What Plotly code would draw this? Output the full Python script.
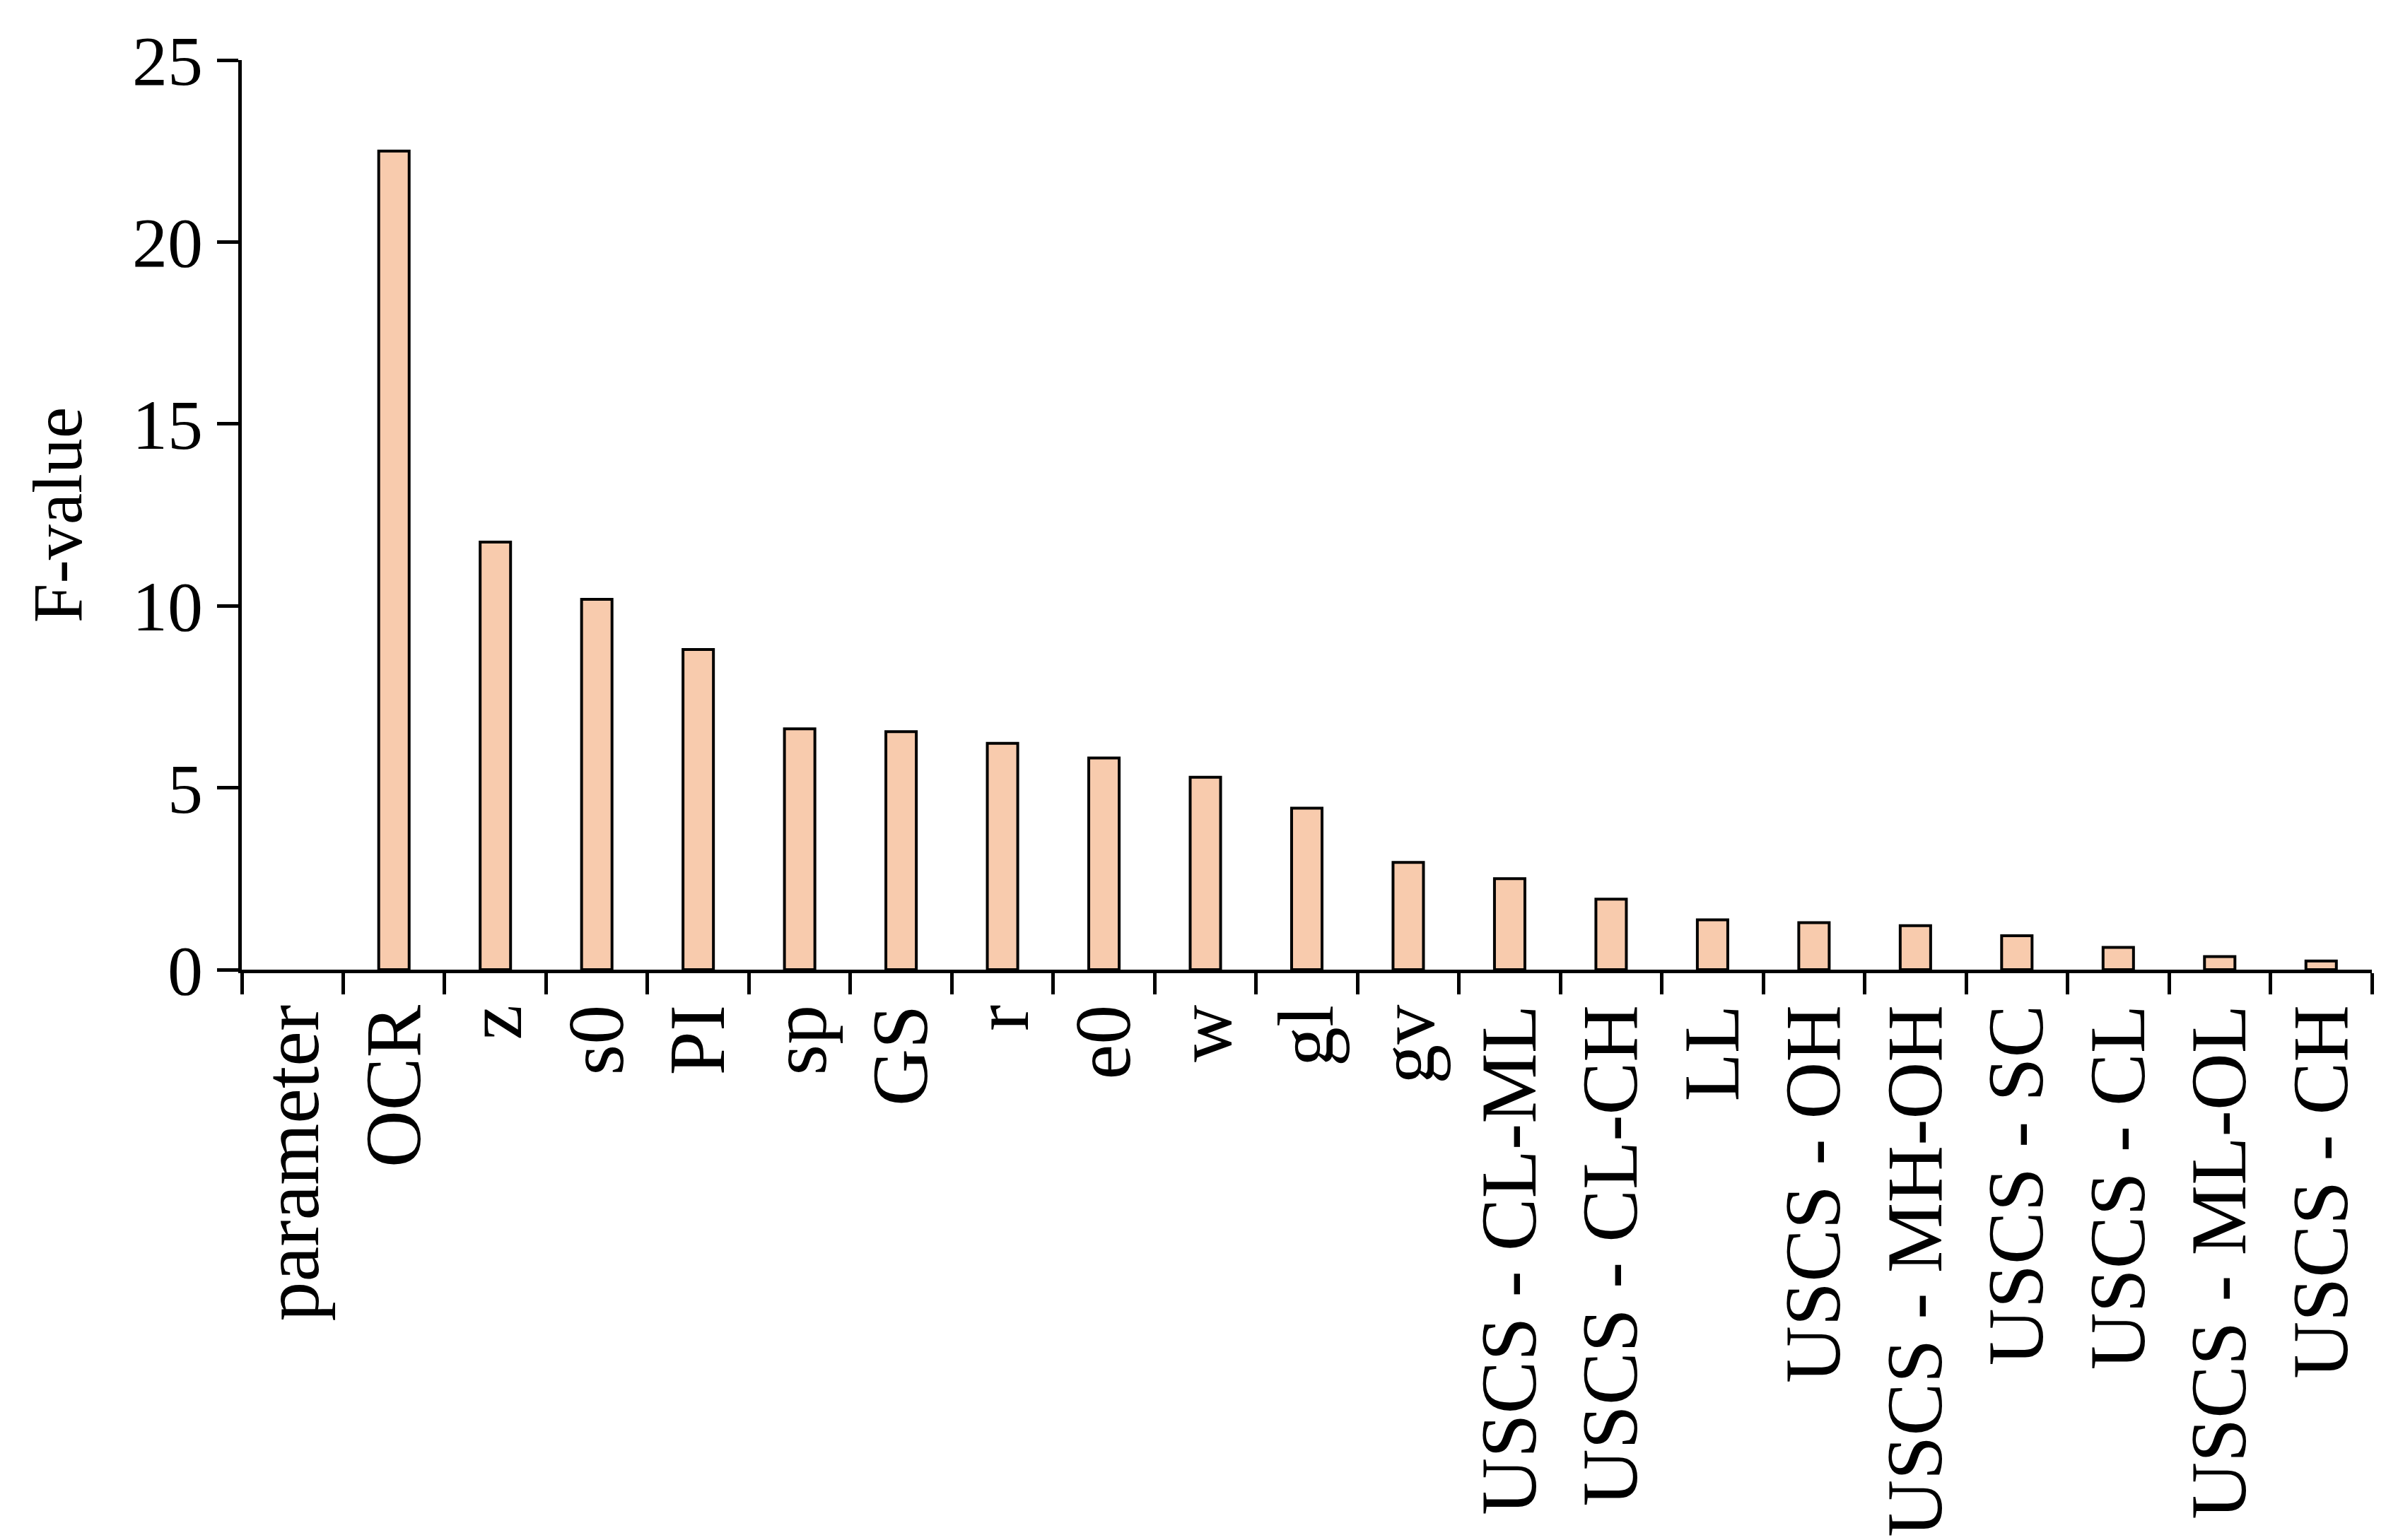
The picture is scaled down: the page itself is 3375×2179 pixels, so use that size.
import plotly.graph_objects as go

categories = ["parameter", "OCR", "z", "s0", "PI", "sp", "GS", "r", "e0", "w", "gl", "gv",
              "USCS - CL-ML", "USCS - CL-CH", "LL", "USCS - OH", "USCS - MH-OH", "USCS - SC",
              "USCS - CL", "USCS - ML-OL", "USCS - CH"]
f_values = [None, 22.5, 11.75, 10.18, 8.8, 6.62, 6.54, 6.22, 5.82, 5.29, 4.44, 2.95,
            2.5, 1.94, 1.37, 1.29, 1.21, 0.93, 0.61, 0.36, 0.24]
y_ticks = [0, 5, 10, 15, 20, 25]

fig = go.Figure(go.Bar(x=categories, y=f_values, width=0.3,
                       marker=dict(color="#F8CBAD", line=dict(color="black", width=4))))
xfont = dict(family="Liberation Serif", size=112, color="black")
yfont = dict(family="Liberation Serif", size=100, color="black")
fig.update_layout(
    width=3375, height=2179, plot_bgcolor="white", paper_bgcolor="white",
    margin=dict(l=334, r=28, t=77, b=769), font=yfont, showlegend=False,
    xaxis=dict(tickangle=-90, showline=True, linecolor="black", linewidth=5,
               ticks="outside", tickson="boundaries", ticklen=30, tickwidth=5,
               tickcolor="black", tickfont=xfont),
    yaxis=dict(range=[0, 25], tickvals=y_ticks, showline=True, linecolor="black",
               linewidth=5, ticks="outside", ticklen=30, tickwidth=5, tickcolor="black",
               showgrid=False, zeroline=False, tickfont=yfont,
               title=dict(text="F-value", font=yfont, standoff=40)),
)
fig.write_html("out.html")
